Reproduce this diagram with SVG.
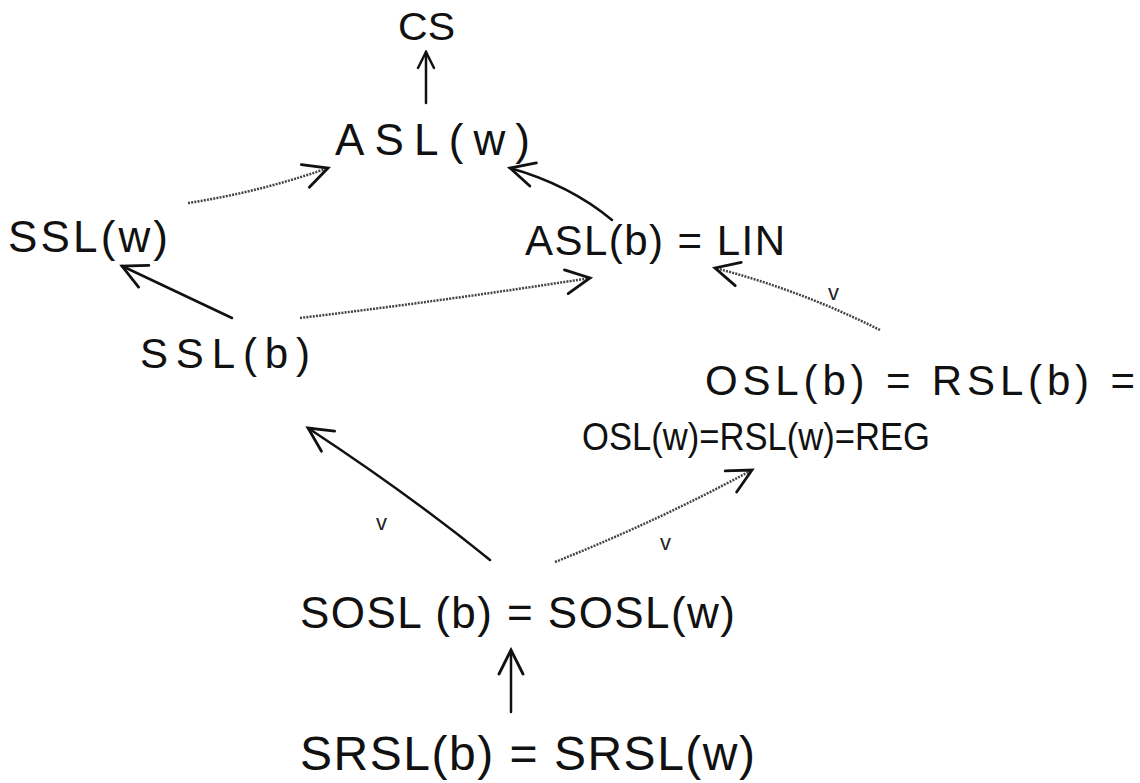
<svg xmlns="http://www.w3.org/2000/svg" width="1140" height="783" viewBox="0 0 1140 783">
<defs>
<style>
.t{font-family:"Liberation Sans","DejaVu Sans",sans-serif;fill:#111;}
.s{fill:none;stroke:#111;stroke-width:2.5;stroke-linecap:round;}
.d{fill:none;stroke:#444;stroke-width:2.5;stroke-dasharray:2 1.2;}
.v{font-family:"Liberation Sans","DejaVu Sans",sans-serif;fill:#222;font-size:22px;}
</style>
<marker id="ah" viewBox="0 0 20 20" refX="18" refY="10" markerWidth="20" markerHeight="20" markerUnits="userSpaceOnUse" orient="auto">
<path d="M2,2 L18,10 L2,18" fill="none" stroke="#111" stroke-width="2.5" stroke-linecap="round"/>
</marker>
<marker id="ahb" viewBox="0 0 30 30" refX="27" refY="15" markerWidth="30" markerHeight="30" markerUnits="userSpaceOnUse" orient="auto">
<path d="M3,3 L27,15 L3,27" fill="none" stroke="#111" stroke-width="2.8" stroke-linecap="round"/>
</marker>
</defs>
<rect width="1140" height="783" fill="#fff"/>
<g id="connectors">
<line class="s" x1="426" y1="103" x2="426" y2="52" marker-end="url(#ah)"/>
<path class="d" d="M188,203 Q260,192 328,168" marker-end="url(#ahb)"/>
<path class="s" d="M612,220 Q570,185 510,168" marker-end="url(#ahb)"/>
<line class="s" x1="232" y1="318" x2="122" y2="266" marker-end="url(#ahb)"/>
<path class="d" d="M300,318 Q450,300 590,278" marker-end="url(#ahb)"/>
<path class="d" d="M880,330 Q800,290 715,268" marker-end="url(#ahb)"/>
<path class="s" d="M490,560 Q410,495 308,428" marker-end="url(#ahb)"/>
<path class="d" d="M555,562 Q660,520 752,470" marker-end="url(#ahb)"/>
<line class="s" x1="511" y1="712" x2="511" y2="650" marker-end="url(#ahb)"/>
<text class="v" x="828" y="300">v</text>
<text class="v" x="376" y="530">v</text>
<text class="v" x="660" y="550">v</text>
</g>
<g id="cs"><text class="t" x="398" y="40" font-size="38" textLength="57" lengthAdjust="spacingAndGlyphs">CS</text></g>
<g id="aslw"><text class="t" x="335" y="155" font-size="44" textLength="195" lengthAdjust="spacing">ASL(w)</text></g>
<g id="sslw"><text class="t" x="8" y="252" font-size="44" textLength="160" lengthAdjust="spacing">SSL(w)</text></g>
<g id="aslb"><text class="t" x="525" y="255" font-size="42" textLength="260" lengthAdjust="spacing">ASL(b) = LIN</text></g>
<g id="sslb"><text class="t" x="140" y="368" font-size="42" textLength="170" lengthAdjust="spacing">SSL(b)</text></g>
<g id="osl"><text class="t" x="705" y="395" font-size="42" textLength="430" lengthAdjust="spacing">OSL(b) = RSL(b) =</text>
<text class="t" x="582" y="450" font-size="38" textLength="348" lengthAdjust="spacingAndGlyphs">OSL(w)=RSL(w)=REG</text></g>
<g id="sosl"><text class="t" x="300" y="628" font-size="44" textLength="435" lengthAdjust="spacing">SOSL (b) = SOSL(w)</text></g>
<g id="srsl"><text class="t" x="300" y="770" font-size="48" textLength="455" lengthAdjust="spacing">SRSL(b) = SRSL(w)</text></g>
</svg>
